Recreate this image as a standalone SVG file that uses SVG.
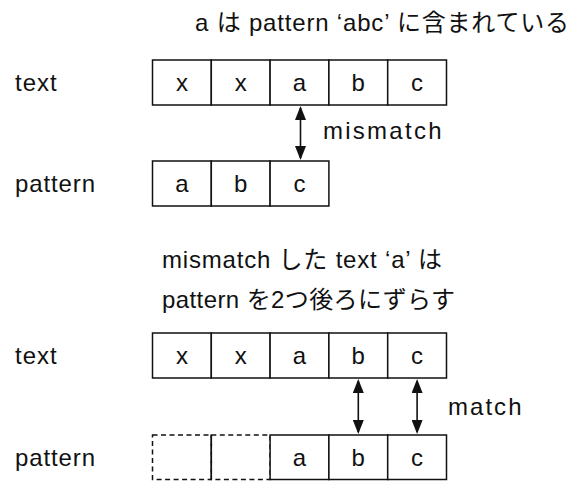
<svg xmlns="http://www.w3.org/2000/svg" width="573" height="481" viewBox="0 0 573 481">
<style>
text{font-family:"Liberation Sans","Noto Sans CJK JP",sans-serif;font-size:24px;fill:#111}
.c{text-anchor:middle}
.cell{fill:#fff;stroke:#111;stroke-width:1.5}
.dash{fill:none;stroke:#111;stroke-width:1.5;stroke-dasharray:5 3.5}
.conn{stroke:#111;stroke-width:1.6;fill:none;marker-start:url(#ah);marker-end:url(#ah)}
</style>
<defs>
<marker id="ah" markerUnits="userSpaceOnUse" markerWidth="14" markerHeight="11" refX="12" refY="5.5" orient="auto-start-reverse">
<path d="M0,0 L14,5.5 L0,11 z" fill="#111"/>
</marker>
</defs>

<g id="title1"><text x="195" y="31" textLength="374" lengthAdjust="spacing">a は pattern ‘abc’ に含まれている</text></g>

<g id="label-text1"><text x="15" y="91" textLength="41.7" lengthAdjust="spacing">text</text></g>
<g id="label-pattern1"><text x="15" y="192" textLength="80" lengthAdjust="spacing">pattern</text></g>

<g id="text-row1">
<rect class="cell" x="152.5" y="60" width="58.8" height="45"/>
<rect class="cell" x="211.3" y="60" width="58.8" height="45"/>
<rect class="cell" x="270.1" y="60" width="58.8" height="45"/>
<rect class="cell" x="328.9" y="60" width="58.8" height="45"/>
<rect class="cell" x="387.7" y="60" width="58.8" height="45"/>
<text class="c" x="181.9" y="91">x</text>
<text class="c" x="240.7" y="91">x</text>
<text class="c" x="299.5" y="91">a</text>
<text class="c" x="358.3" y="91">b</text>
<text class="c" x="417.1" y="91">c</text>
</g>

<g id="pattern-row1">
<rect class="cell" x="152.5" y="161" width="58.8" height="45"/>
<rect class="cell" x="211.3" y="161" width="58.8" height="45"/>
<rect class="cell" x="270.1" y="161" width="58.8" height="45"/>
<text class="c" x="181.9" y="192">a</text>
<text class="c" x="240.7" y="192">b</text>
<text class="c" x="299.5" y="192">c</text>
</g>

<g id="label-mismatch"><text x="323" y="139" textLength="118.5" lengthAdjust="spacing">mismatch</text></g>

<g id="caption2">
<text x="162" y="268" textLength="280" lengthAdjust="spacing">mismatch した text ‘a’ は</text>
<text x="162" y="308" textLength="293" lengthAdjust="spacing">pattern を2つ後ろにずらす</text>
</g>

<g id="label-text2"><text x="15" y="364" textLength="41.7" lengthAdjust="spacing">text</text></g>
<g id="label-pattern2"><text x="15" y="466" textLength="80" lengthAdjust="spacing">pattern</text></g>

<g id="text-row2">
<rect class="cell" x="152.5" y="333" width="58.8" height="45"/>
<rect class="cell" x="211.3" y="333" width="58.8" height="45"/>
<rect class="cell" x="270.1" y="333" width="58.8" height="45"/>
<rect class="cell" x="328.9" y="333" width="58.8" height="45"/>
<rect class="cell" x="387.7" y="333" width="58.8" height="45"/>
<text class="c" x="181.9" y="364">x</text>
<text class="c" x="240.7" y="364">x</text>
<text class="c" x="299.5" y="364">a</text>
<text class="c" x="358.3" y="364">b</text>
<text class="c" x="417.1" y="364">c</text>
</g>

<g id="pattern-row2">
<rect class="dash" x="152.5" y="435" width="58.8" height="44.5"/>
<rect class="dash" x="211.3" y="435" width="58.8" height="44.5"/>
<line x1="211.3" y1="435" x2="211.3" y2="479.5" stroke="#111" stroke-width="1.5"/>
<rect class="cell" x="270.1" y="435" width="58.8" height="44.5"/>
<rect class="cell" x="328.9" y="435" width="58.8" height="44.5"/>
<rect class="cell" x="387.7" y="435" width="58.8" height="44.5"/>
<text class="c" x="299.5" y="466">a</text>
<text class="c" x="358.3" y="466">b</text>
<text class="c" x="417.1" y="466">c</text>
</g>

<g id="label-match"><text x="448" y="415" textLength="73.5" lengthAdjust="spacing">match</text></g>

<g id="connectors">
<line class="conn" x1="300.5" y1="108" x2="300.5" y2="158"/>
<line class="conn" x1="358.3" y1="381" x2="358.3" y2="432"/>
<line class="conn" x1="417.1" y1="381" x2="417.1" y2="432"/>
</g>
</svg>
